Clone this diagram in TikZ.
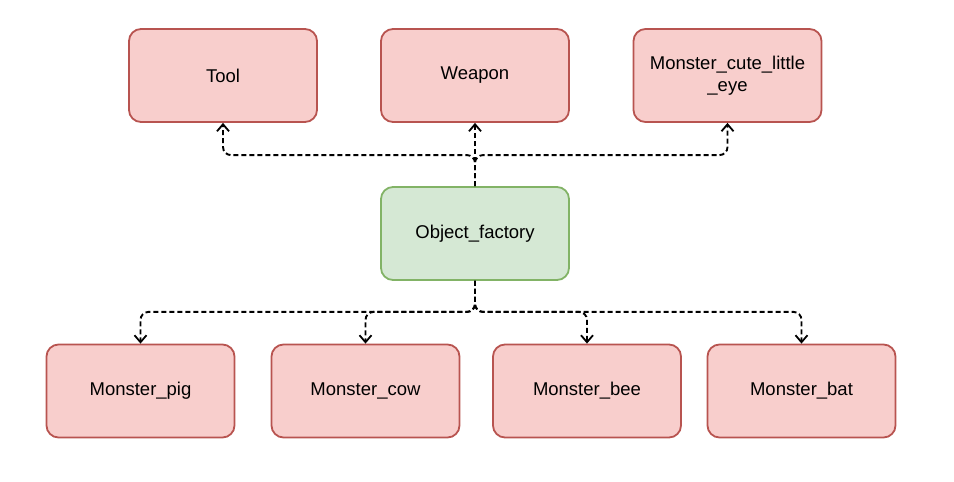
\documentclass[tikz,border=0pt]{standalone}
\usepackage{fontspec}
\setmainfont{Liberation Sans}
\usetikzlibrary{arrows.meta}
\definecolor{redfill}{HTML}{F8CECC}
\definecolor{redline}{HTML}{B85450}
\definecolor{greenfill}{HTML}{D5E8D4}
\definecolor{greenline}{HTML}{82B366}
\tikzset{
  redbox/.style={draw=redline, fill=redfill, line width=1.8pt, rounded corners=12pt,
    minimum width=188pt, minimum height=93pt, inner sep=0pt, align=center,
    font=\fontsize{18.5}{22}\selectfont},
  greenbox/.style={redbox, draw=greenline, fill=greenfill},
  conn/.style={line width=1.9pt, dash pattern=on 5pt off 3pt, rounded corners=8pt,
    -{Straight Barb[length=7pt,width=12pt,line width=1.8pt]}}
}
\begin{document}
\begin{tikzpicture}[x=1pt,y=-1pt]
\useasboundingbox (0,0) rectangle (954,482);
\node[redbox] (tool) at (223,75.5) {Tool};
\node[redbox] (weapon) at (475,75.5) {Weapon};
\node[redbox] (eye) at (727.5,75.5) {Monster\_cute\_little\\\_eye};
\node[greenbox] (fac) at (475,233.5) {Object\_factory};
\node[redbox] (pig) at (140.5,391) {Monster\_pig};
\node[redbox] (cow) at (365.5,391) {Monster\_cow};
\node[redbox] (bee) at (587,391) {Monster\_bee};
\node[redbox] (bat) at (801.5,391) {Monster\_bat};
\draw[conn] (fac.north) -- ++(0,-31) -| (tool.south);
\draw[conn] (fac.north) -- (weapon.south);
\draw[conn] (fac.north) -- ++(0,-31) -| (eye.south);
\draw[conn] (fac.south) -- ++(0,31) -| (pig.north);
\draw[conn] (fac.south) -- ++(0,31) -| (cow.north);
\draw[conn] (fac.south) -- ++(0,31) -| (bee.north);
\draw[conn] (fac.south) -- ++(0,31) -| (bat.north);
\end{tikzpicture}
\end{document}
